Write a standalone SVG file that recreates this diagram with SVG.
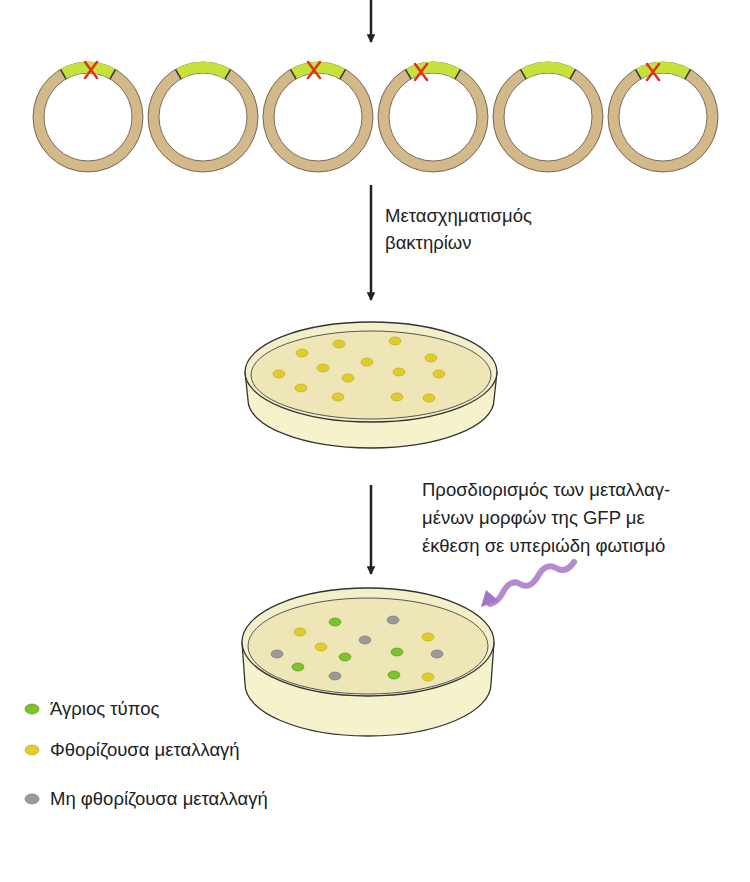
<svg xmlns="http://www.w3.org/2000/svg" width="750" height="882" viewBox="0 0 750 882">
<defs>
<style>
.ring{fill:none;stroke:#5a5040;stroke-width:0.8}
.band{fill:none;stroke:#d3b98a;stroke-width:11}
.gfp{fill:none;stroke:#c5e23a;stroke-width:11}
.x{stroke:#e0301e;stroke-width:2.5;stroke-linecap:round}
.t{font-family:"Liberation Sans",Arial,sans-serif;font-size:18.5px;fill:#222}
.ar{stroke:#222;stroke-width:2.5;fill:none}
.y{fill:#e2cc2a;stroke:#b8a010;stroke-width:0.6}
.g{fill:#7cc22a;stroke:#4e8f10;stroke-width:0.6}
.s{fill:#9a9a9a;stroke:#6e6e6e;stroke-width:0.6}
.rim{fill:#f3efc8;stroke:#333;stroke-width:1.3}
.med{fill:#efe6b8;stroke:#555;stroke-width:1}
.side{fill:#f6f2cc;stroke:#333;stroke-width:1.3}
</style>
<marker id="ah" viewBox="0 0 10 10" refX="9" refY="5" markerWidth="3.5" markerHeight="3.5" orient="auto"><path d="M0,0L10,5L0,10z" fill="#222"/></marker>
<g id="plasmid">
<circle r="49.5" class="band"/>
<circle r="55" class="ring"/><circle r="44" class="ring"/>
<path d="M-25,-42.9A49.5,49.5 0 0 1 25,-42.9" class="gfp"/>
<path d="M-27.5,-47.6L-22,-38.1M27.5,-47.6L22,-38.1" stroke="#333" stroke-width="1.5"/>
</g>
<g id="cross"><path d="M-6,-8L6,8M6,-8L-6,8" class="x"/></g>
</defs>
<g id="connectors">
<line x1="371" y1="0" x2="371" y2="42" class="ar" marker-end="url(#ah)"/>
<line x1="371" y1="185" x2="371" y2="300" class="ar" marker-end="url(#ah)"/>
<line x1="371" y1="485" x2="371" y2="574" class="ar" marker-end="url(#ah)"/>
<path d="M574,562 q-8,12 -18,6 q-10,-6 -18,8 q-8,14 -18,8 q-10,-6 -18,10 q-4,8 -12,10" fill="none" stroke="#b58bd0" stroke-width="6" stroke-linecap="round"/>
<path d="M481,607 L486,590 L499,601 z" fill="#a276c6"/>
</g>
<g id="plasmids">
<use href="#plasmid" x="88" y="117"/><use href="#cross" x="91" y="70"/>
<use href="#plasmid" x="203" y="117"/>
<use href="#plasmid" x="318" y="117"/><use href="#cross" x="314" y="70"/>
<use href="#plasmid" x="433" y="117"/><use href="#cross" x="421" y="72"/>
<use href="#plasmid" x="548" y="117"/>
<use href="#plasmid" x="663" y="117"/><use href="#cross" x="653" y="72"/>
</g>
<g id="label1"><text class="t" x="385" y="222">Μετασχηματισμός</text><text class="t" x="385" y="249">βακτηρίων</text></g>
<g id="dish1">
<path d="M245,372 L248,400 A123,48 0 0 0 494,400 L497,372" class="side"/>
<ellipse cx="371" cy="372" rx="126" ry="50" class="rim"/>
<ellipse cx="371" cy="375" rx="120" ry="44" class="med"/>
<g class="y">
<ellipse cx="339" cy="344" rx="6" ry="4"/><ellipse cx="395" cy="341" rx="6" ry="4"/><ellipse cx="302" cy="353" rx="6" ry="4"/><ellipse cx="431" cy="358" rx="6" ry="4"/><ellipse cx="323" cy="368" rx="6" ry="4"/><ellipse cx="367" cy="362" rx="6" ry="4"/><ellipse cx="279" cy="374" rx="6" ry="4"/><ellipse cx="348" cy="378" rx="6" ry="4"/><ellipse cx="399" cy="372" rx="6" ry="4"/><ellipse cx="439" cy="374" rx="6" ry="4"/><ellipse cx="301" cy="388" rx="6" ry="4"/><ellipse cx="338" cy="397" rx="6" ry="4"/><ellipse cx="397" cy="397" rx="6" ry="4"/><ellipse cx="429" cy="398" rx="6" ry="4"/>
</g>
</g>
<g id="label2"><text class="t" x="422" y="496">Προσδιορισμός των μεταλλαγ-</text><text class="t" x="422" y="524">μένων μορφών της GFP με</text><text class="t" x="422" y="552">έκθεση σε υπεριώδη φωτισμό</text></g>
<g id="dish2">
<path d="M242,642 L245,684 A123,52 0 0 0 491,684 L494,642" class="side"/>
<ellipse cx="368" cy="642" rx="126" ry="54" class="rim"/>
<ellipse cx="368" cy="646" rx="120" ry="48" class="med"/>
<ellipse cx="335" cy="622" rx="6" ry="4" class="g"/><ellipse cx="393" cy="620" rx="6" ry="4" class="s"/><ellipse cx="300" cy="632" rx="6" ry="4" class="y"/><ellipse cx="428" cy="637" rx="6" ry="4" class="y"/><ellipse cx="365" cy="640" rx="6" ry="4" class="s"/><ellipse cx="321" cy="647" rx="6" ry="4" class="y"/><ellipse cx="277" cy="654" rx="6" ry="4" class="s"/><ellipse cx="345" cy="657" rx="6" ry="4" class="g"/><ellipse cx="397" cy="652" rx="6" ry="4" class="g"/><ellipse cx="437" cy="654" rx="6" ry="4" class="s"/><ellipse cx="298" cy="667" rx="6" ry="4" class="g"/><ellipse cx="335" cy="676" rx="6" ry="4" class="s"/><ellipse cx="394" cy="675" rx="6" ry="4" class="g"/><ellipse cx="428" cy="677" rx="6" ry="4" class="y"/>
</g>
<g id="legend">
<ellipse cx="32" cy="709" rx="7" ry="5" class="g"/><text class="t" x="50" y="715">Άγριος τύπος</text>
<ellipse cx="32" cy="750" rx="7" ry="5" class="y"/><text class="t" x="50" y="756">Φθορίζουσα μεταλλαγή</text>
<ellipse cx="32" cy="799" rx="7" ry="5" class="s"/><text class="t" x="50" y="805">Μη φθορίζουσα μεταλλαγή</text>
</g>
</svg>
